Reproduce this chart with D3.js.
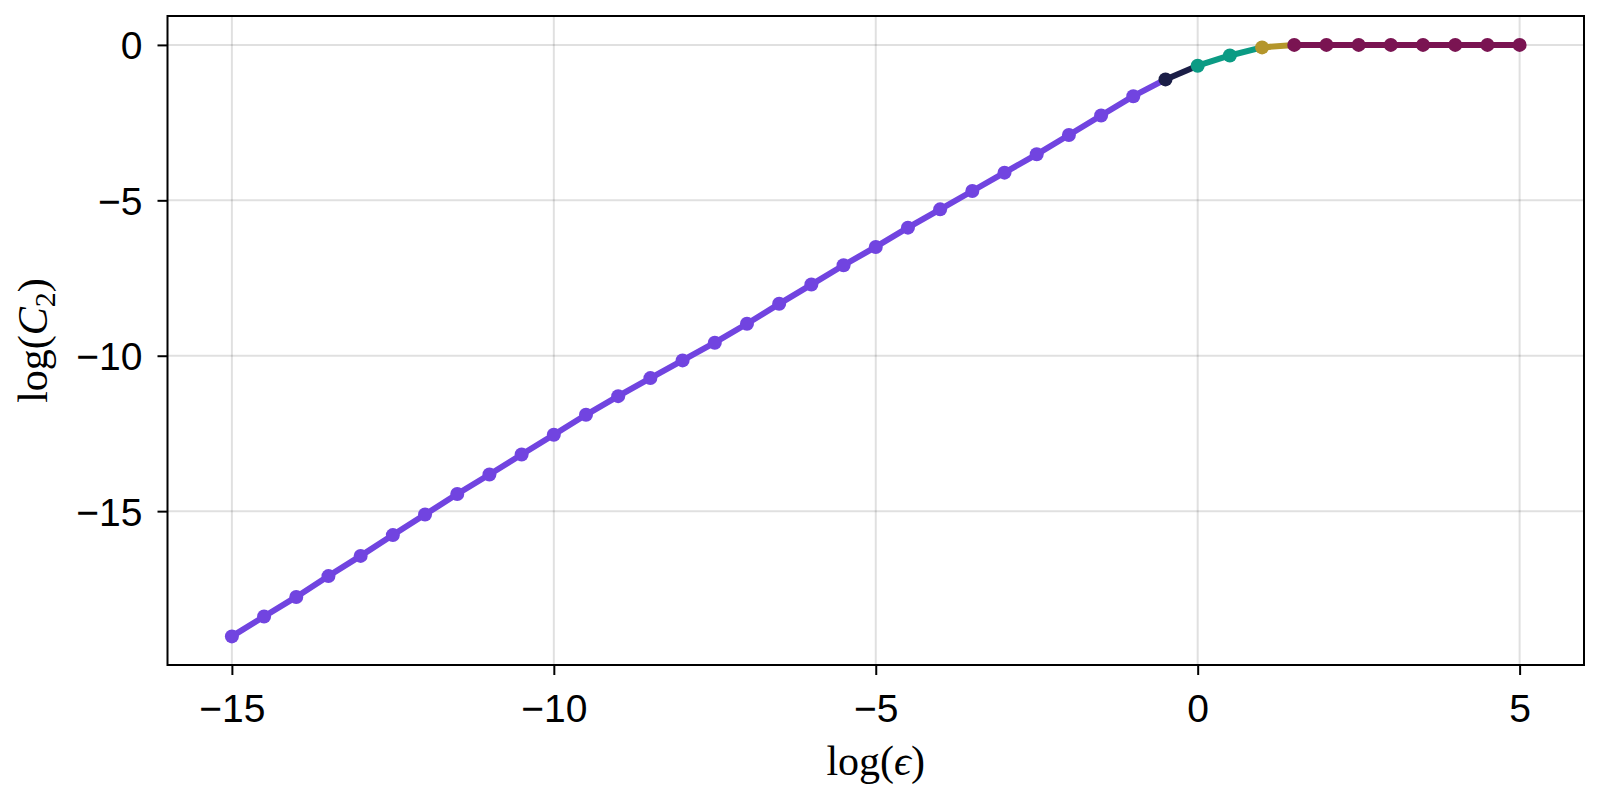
<!DOCTYPE html>
<html>
<head>
<meta charset="utf-8">
<script src="https://cdn.jsdelivr.net/npm/d3@7"></script>
<style>
  html, body { margin: 0; padding: 0; background: #fff; }
  svg { display: block; }
</style>
</head>
<body>
<svg id="chart" width="1600" height="800"></svg>
<script>
// ---- data ----
const logEps = [-15, -14.5, -14, -13.5, -13, -12.5, -12, -11.5, -11, -10.5,
                -10, -9.5, -9, -8.5, -8, -7.5, -7, -6.5, -6, -5.5,
                -5, -4.5, -4, -3.5, -3, -2.5, -2, -1.5, -1, -0.5,
                0, 0.5, 1, 1.5, 2, 2.5, 3, 3.5, 4, 4.5, 5];
const logC2 = [-19.03, -18.39, -17.76, -17.09, -16.44, -15.77, -15.11, -14.45, -13.82, -13.18,
               -12.54, -11.90, -11.30, -10.72, -10.15, -9.58, -8.97, -8.33, -7.71, -7.09,
               -6.50, -5.88, -5.29, -4.70, -4.11, -3.52, -2.90, -2.27, -1.65, -1.11,
               -0.67, -0.34, -0.08, 0, 0, 0, 0, 0, 0, 0, 0];
// group index of each point
const groupOf = [0,0,0,0,0,0,0,0,0,0, 0,0,0,0,0,0,0,0,0,0, 0,0,0,0,0,0,0,0,0,1, 2,2,3,4,4,4,4,4,4,4,4];
const groupColors = ["#7144E0", "#1B1E47", "#0B9B84", "#B4962B", "#7A1452"];
const xTicks = [-15, -10, -5, 0, 5];
const yTicks = [0, -5, -10, -15];

// ---- layout ----
const svg = d3.select("#chart");
const L = 167.5, R = 1584, T = 16, B = 665;
const x = d3.scaleLinear().domain([-16, 6]).range([L, R]);
const y = d3.scaleLinear().domain([-19.95, 0.93]).range([B, T]);

const fmt = v => (v < 0 ? "\u2212" + Math.abs(v) : String(v));

// grid
const grid = svg.append("g").attr("stroke", "rgba(0,0,0,0.12)").attr("stroke-width", 2);
grid.selectAll("line.gx").data(xTicks).join("line")
  .attr("x1", d => x(d)).attr("x2", d => x(d)).attr("y1", T).attr("y2", B);
grid.selectAll("line.gy").data(yTicks).join("line")
  .attr("y1", d => y(d)).attr("y2", d => y(d)).attr("x1", L).attr("x2", R);

// axes via d3
const xAxis = d3.axisBottom(x).tickValues(xTicks).tickSize(10).tickPadding(19).tickFormat(fmt);
const yAxis = d3.axisLeft(y).tickValues(yTicks).tickSize(10).tickPadding(15).tickFormat(fmt);
const gx = svg.append("g").attr("transform", `translate(0,${B})`).call(xAxis);
const gy = svg.append("g").attr("transform", `translate(${L},0)`).call(yAxis);
[gx, gy].forEach(g => {
  g.select(".domain").remove();
  g.selectAll(".tick line").attr("stroke", "#000").attr("stroke-width", 2);
  g.selectAll(".tick text").attr("fill", "#000")
    .style("font-family", "'Liberation Sans', Arial, sans-serif").style("font-size", "39px");
});
gy.selectAll(".tick text").attr("dy", "0.36em");
gx.selectAll(".tick text").attr("dy", "0.72em");

// clip
svg.append("clipPath").attr("id", "clip").append("rect")
  .attr("x", L).attr("y", T).attr("width", R - L).attr("height", B - T);
const plot = svg.append("g").attr("clip-path", "url(#clip)");

// lines: each segment colored by its left point's group
const pts = logEps.map((e, i) => ({ x: e, y: logC2[i], g: groupOf[i] }));
const groups = d3.range(groupColors.length).map(g => {
  const idx = pts.map((p, i) => i).filter(i => pts[i].g === g);
  const last = idx[idx.length - 1];
  const seg = idx.map(i => pts[i]);
  if (last + 1 < pts.length) seg.push(pts[last + 1]);
  return { g, seg };
});
const line = d3.line().x(d => x(d.x)).y(d => y(d.y));
plot.selectAll("path.series").data(groups).join("path")
  .attr("fill", "none")
  .attr("stroke", d => groupColors[d.g])
  .attr("stroke-width", 6)
  .attr("stroke-linejoin", "round")
  .attr("d", d => line(d.seg));
plot.selectAll("circle").data(pts).join("circle")
  .attr("cx", d => x(d.x)).attr("cy", d => y(d.y)).attr("r", 7)
  .attr("fill", d => groupColors[d.g]);

// frame
svg.append("rect").attr("x", L).attr("y", T).attr("width", R - L).attr("height", B - T)
  .attr("fill", "none").attr("stroke", "#000").attr("stroke-width", 2);

// axis labels
const serif = "'Liberation Serif', 'Times New Roman', serif";
const xl = svg.append("text").attr("x", (L + R) / 2).attr("y", 775)
  .attr("text-anchor", "middle").style("font-family", serif).style("font-size", "42px");
xl.append("tspan").text("log(");
xl.append("tspan").attr("font-style", "italic").text("\u03F5");
xl.append("tspan").text(")");

const yl = svg.append("text").attr("transform", `translate(47,${(T + B) / 2}) rotate(-90)`)
  .attr("text-anchor", "middle").style("font-family", serif).style("font-size", "42px");
yl.append("tspan").text("log(");
yl.append("tspan").attr("font-style", "italic").text("C");
yl.append("tspan").attr("dy", 8).style("font-size", "30px").text("2");
yl.append("tspan").attr("dy", -8).text(")");
</script>
</body>
</html>
